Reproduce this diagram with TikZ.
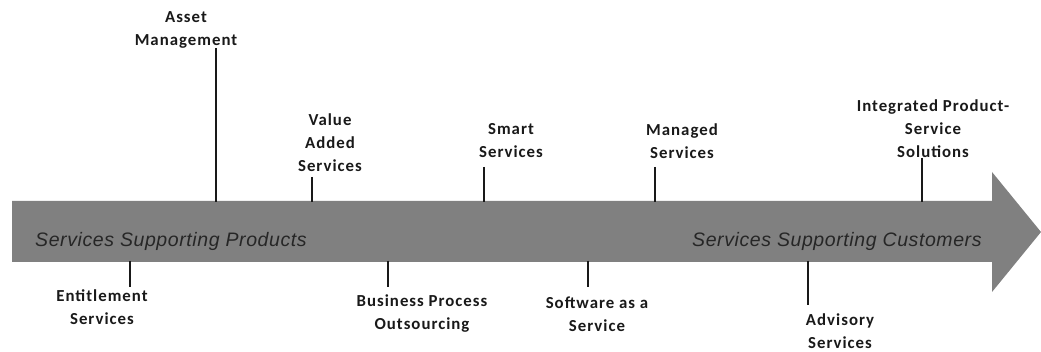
\documentclass[tikz,border=0pt]{standalone}
\usepackage{fontspec}
\setmainfont{Carlito}[LetterSpace=6]
\newfontfamily\bandfont{Liberation Sans}[LetterSpace=3]
\begin{document}
\begin{tikzpicture}[x=1pt,y=-1pt,
  lbl/.style={font=\fontsize{16.8}{23}\selectfont\bfseries, align=center, inner sep=0pt, text=black!90},
  band/.style={font=\bandfont\fontsize{19.5}{21}\selectfont\itshape, inner sep=0pt, anchor=west, text=black!85},
  tick/.style={line width=2.6pt, black!90}]
\useasboundingbox (0,0) rectangle (1041,352);
\definecolor{bandgray}{HTML}{808080}
% the arrow
\coordinate (tail top) at (12,201);
\coordinate (tail bot) at (12,262);
\fill[bandgray] (tail top) -- (992,201) -- (992,172) -- (1041,232) -- (992,292) -- (992,262) -- (tail bot) -- cycle;
\node[band] (prod) at (35,241) {Services Supporting Products};
\node[band] (cust) at (692,241) {Services Supporting Customers};
% labels above
\node[lbl] (am) at (186,30) {Asset\\Management};
\node[lbl] (vas) at (330,143) {Value\\Added\\Services};
\node[lbl] (ss) at (511,141) {Smart\\Services};
\node[lbl] (ms) at (682,141) {Managed\\Services};
\node[lbl] (ips) at (933,129) {Integrated Product-\\Service\\Solutions};
% labels below
\node[lbl] (es) at (102,307) {Entitlement\\Services};
\node[lbl] (bpo) at (422,314) {Business Process\\Outsourcing};
\node[lbl] (saas) at (597,314) {Software as a\\Service};
\node[lbl] (adv) at (840,331) {Advisory\\Services};
% tick ends
\coordinate (am a) at (216,48);   \coordinate (am b) at (216,202);
\coordinate (vas a) at (312,177); \coordinate (vas b) at (312,202);
\coordinate (ss a) at (484,167);  \coordinate (ss b) at (484,202);
\coordinate (ms a) at (655,167);  \coordinate (ms b) at (655,202);
\coordinate (ips a) at (922,158); \coordinate (ips b) at (922,202);
\coordinate (es a) at (130,261);  \coordinate (es b) at (130,287);
\coordinate (bpo a) at (388,261); \coordinate (bpo b) at (388,287);
\coordinate (saas a) at (588,261);\coordinate (saas b) at (588,287);
\coordinate (adv a) at (808,261); \coordinate (adv b) at (808,305);
\foreach \t in {am,vas,ss,ms,ips,es,bpo,saas,adv}
  \draw[tick] (\t\space a) -- (\t\space b);
\end{tikzpicture}
\end{document}
